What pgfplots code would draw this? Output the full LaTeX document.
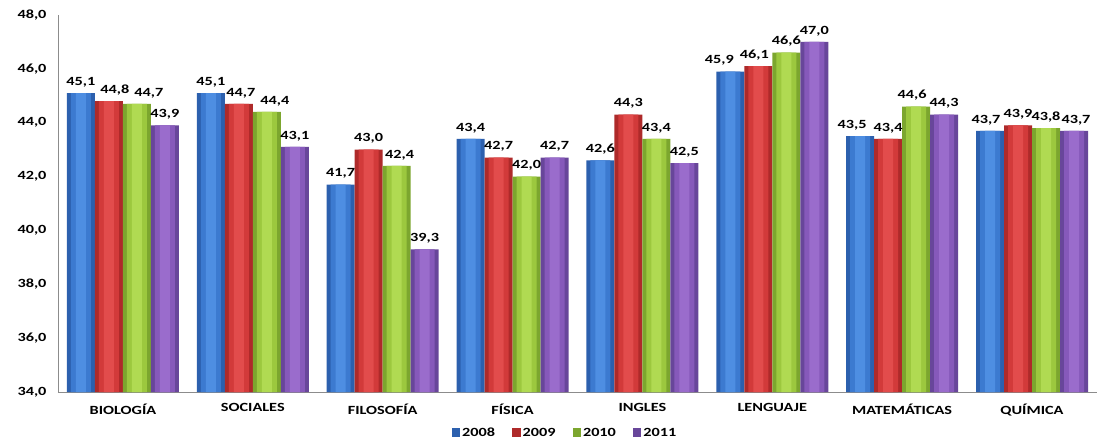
\documentclass[border=0pt]{standalone}
\usepackage{pgfplots}
\usepackage{pgfplotstable}
\pgfplotsset{compat=1.18}
\usepackage{fontspec}
\setmainfont{Carlito}[FakeStretch=1.3]
\definecolor{cbd}{HTML}{2C60AE}
\definecolor{cbm}{HTML}{3C7AD0}
\definecolor{cbl}{HTML}{4E8EE2}
\definecolor{crd}{HTML}{AE2A2A}
\definecolor{crm}{HTML}{D23A3A}
\definecolor{crl}{HTML}{E24C4C}
\definecolor{cgd}{HTML}{7CA62E}
\definecolor{cgm}{HTML}{9CC83E}
\definecolor{cgl}{HTML}{B0DA52}
\definecolor{cpd}{HTML}{68469A}
\definecolor{cpm}{HTML}{8659BA}
\definecolor{cpl}{HTML}{9A6CCC}
% x, value, label x-offset (pt)
\pgfplotstableread{
x y d
0 45.1 0
1 45.1 0
2 41.7 0
3 43.4 0
4 42.6 0
5 45.9 -11
6 43.5 -8
7 43.7 -4
}\tA
\pgfplotstableread{
x y d
0 44.8 6
1 44.7 2
2 43.0 0
3 42.7 0
4 44.3 0
5 46.1 -4
6 43.4 0
7 43.9 0
}\tB
\pgfplotstableread{
x y d
0 44.7 12
1 44.4 8
2 42.4 3
3 42.0 0
4 43.4 0
5 46.6 0
6 44.6 -4
7 43.8 0
}\tC
\pgfplotstableread{
x y d
0 43.9 0
1 43.1 0
2 39.3 0
3 42.7 0
4 42.5 0
5 47.0 0
6 44.3 0
7 43.7 2
}\tD
\begin{document}
\begin{tikzpicture}
\begin{axis}[
  scale only axis, width=1039pt, height=377pt,
  ybar=0pt, bar width=28pt,
  xmin=-0.5, xmax=7.5, ymin=34, ymax=48,
  ytick={34,36,...,48},
  xtick={0,...,7},
  xticklabels={BIOLOGÍA,SOCIALES,FILOSOFÍA,FÍSICA,INGLES,LENGUAJE,MATEMÁTICAS,QUÍMICA},
  axis x line*=bottom, axis y line*=left,
  axis line style={draw=black!45, line width=0.8pt},
  major tick length=0pt,
  tick label style={font=\fontsize{12.5}{14}\selectfont\bfseries},
  x tick label style={yshift=-8pt},
  y tick label style={xshift=-8pt},
  /pgf/number format/assume math mode=true,
  /pgf/number format/fixed,
  /pgf/number format/fixed zerofill,
  /pgf/number format/precision=1,
  /pgf/number format/use comma,
  nodes near coords style={font=\fontsize{12.5}{14}\selectfont\bfseries, yshift=2.5pt, xshift=\dx pt},
  legend style={at={(0.488,-0.109)}, anchor=center, draw=none, legend columns=-1,
    font=\fontsize{12.5}{14}\selectfont\bfseries,
    /tikz/every even column/.append style={column sep=15pt}},
  legend image code/.code={\path[#1] (0pt,-3.5pt) rectangle (8.5pt,5pt);},
]
% 2008
\addplot[draw=none, fill=cbd, bar shift=-42pt, bar width=28pt] table {\tA};
\addplot[forget plot, draw=none, fill=cbm, bar shift=-42pt, bar width=20pt] table {\tA};
\addplot[forget plot, draw=none, fill=cbl, bar shift=-42pt, bar width=10pt] table {\tA};
% 2009
\addplot[draw=none, fill=crd, bar shift=-14pt, bar width=28pt] table {\tB};
\addplot[forget plot, draw=none, fill=crm, bar shift=-14pt, bar width=20pt] table {\tB};
\addplot[forget plot, draw=none, fill=crl, bar shift=-14pt, bar width=10pt] table {\tB};
% 2010
\addplot[draw=none, fill=cgd, bar shift=14pt, bar width=28pt] table {\tC};
\addplot[forget plot, draw=none, fill=cgm, bar shift=14pt, bar width=20pt] table {\tC};
\addplot[forget plot, draw=none, fill=cgl, bar shift=14pt, bar width=10pt] table {\tC};
% 2011
\addplot[draw=none, fill=cpd, bar shift=42pt, bar width=28pt] table {\tD};
\addplot[forget plot, draw=none, fill=cpm, bar shift=42pt, bar width=20pt] table {\tD};
\addplot[forget plot, draw=none, fill=cpl, bar shift=42pt, bar width=10pt] table {\tD};
% labels
\addplot[forget plot, draw=none, fill=none, nodes near coords, bar shift=-42pt,
  visualization depends on={\thisrow{d} \as \dx}] table {\tA};
\addplot[forget plot, draw=none, fill=none, nodes near coords, bar shift=-14pt,
  visualization depends on={\thisrow{d} \as \dx}] table {\tB};
\addplot[forget plot, draw=none, fill=none, nodes near coords, bar shift=14pt,
  visualization depends on={\thisrow{d} \as \dx}] table {\tC};
\addplot[forget plot, draw=none, fill=none, nodes near coords, bar shift=42pt,
  visualization depends on={\thisrow{d} \as \dx}] table {\tD};
\legend{2008,2009,2010,2011}
\end{axis}
\pgfresetboundingbox
\path (-58pt,-55pt) rectangle (1041pt,392pt);
\end{tikzpicture}
\end{document}
